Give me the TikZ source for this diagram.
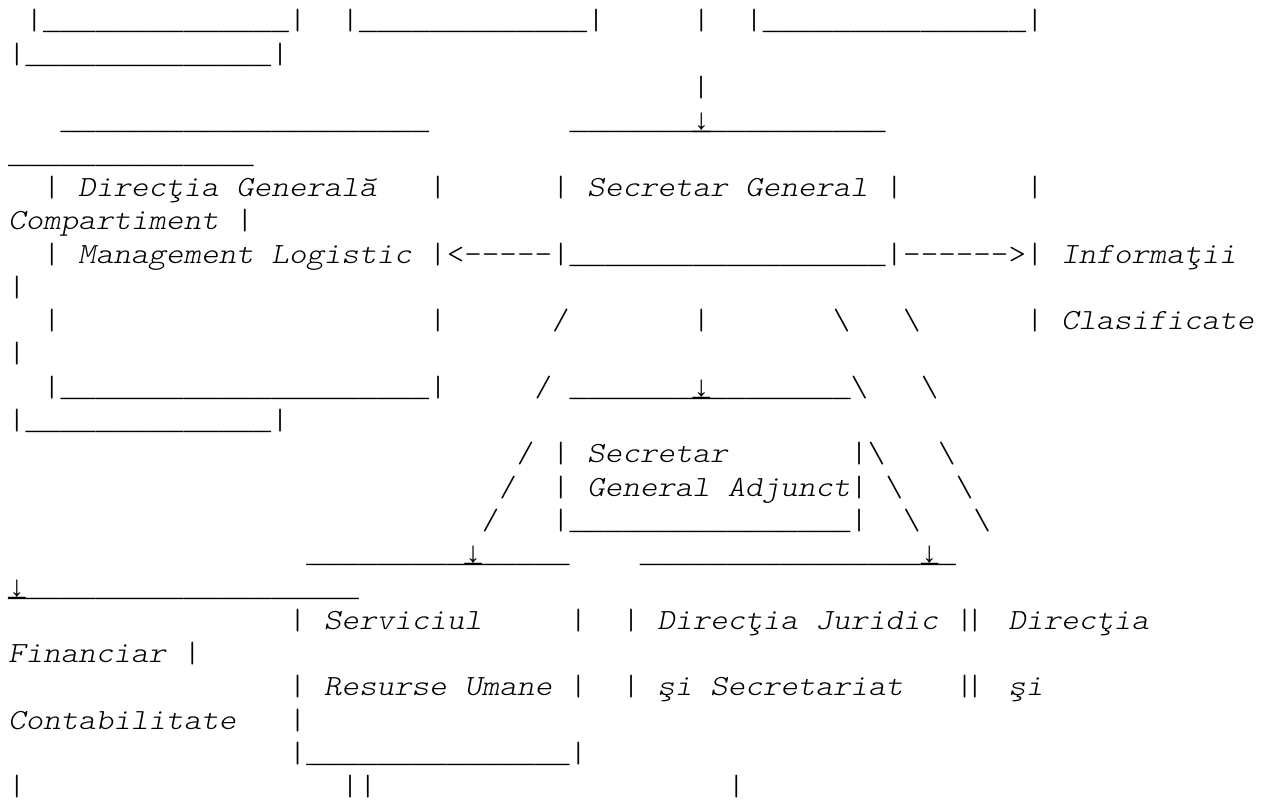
\documentclass[tikz,border=0pt]{standalone}
\usepackage{fontspec}
\setmonofont{lmmonolt10-regular.otf}[FakeStretch=1.142857]
\newfontfamily\wordfont{lmmonolt10-oblique.otf}[FakeStretch=1.142857]
\newfontfamily\linefont{Liberation Mono}
\usepackage{tikz}

% runs of underscores, blanks, an arrow sitting on the line, and the labels
\newcommand{\us}[1]{{\linefont\foreach\q in {1,...,#1}{\_}}}
\newcommand{\gap}[1]{\foreach\q in {1,...,#1}{\hphantom{x}}}
\newcommand{\dn}{{\linefont\rlap{↓}\rlap{\raisebox{0.6pt}{\_}}\_}}
\newcommand{\bs}{\textbackslash}
\newcommand{\lbl}[1]{{\wordfont #1}}

\begin{document}
\begin{tikzpicture}[
    x=13.1625pt, y=-24.975pt,
    ascii/.style={anchor=base west, inner sep=0pt, outer sep=0pt, font=\ttfamily\fontsize{21.94pt}{25pt}\selectfont}
]
\fill[white] (0,0) rectangle (71.966,24.054);
\useasboundingbox (0,0) rectangle (71.966,24.054);

\begin{scope}[shift={(0.456,-0.1)}]
% Boxes of the upper level
\node[ascii] (r1) at (1,1) {|\us{14}|\gap{2}|\us{13}|\gap{5}|\gap{2}|\us{15}|};
\node[ascii] (r2) at (0,2) {|\us{14}|};
\node[ascii] (r3) at (39,3) {|};
\node[ascii] (r4) at (3,4) {\us{21}\gap{8}\us{7}\dn\us{10}};
\node[ascii] (r5) at (0,5) {\us{14}};

% Logistics, Secretary General, classified information
\node[ascii] (r6) at (2,6) {|\gap{1}\lbl{Direcţia\gap{1}Generală}\gap{3}|\gap{6}|\gap{1}\lbl{Secretar\gap{1}General}\gap{1}|\gap{7}|};
\node[ascii] (r7) at (0,7) {\lbl{Compartiment}\gap{1}|};
\node[ascii] (r8) at (2,8) {|\gap{1}\lbl{Management\gap{1}Logistic}\gap{1}|<-----|\us{18}|------>|\gap{1}\lbl{Informaţii}};
\node[ascii] (r9) at (0,9) {|};
\node[ascii] (r10) at (2,10) {|\gap{21}|\gap{6}/\gap{7}|\gap{7}\bs\gap{3}\bs\gap{6}|\gap{1}\lbl{Clasificate}};
\node[ascii] (r11) at (0,11) {|};
\node[ascii] (r12) at (2,12) {|\us{21}|\gap{5}/\gap{1}\us{7}\dn\us{8}\bs\gap{3}\bs};
\node[ascii] (r13) at (0,13) {|\us{14}|};

% Deputy Secretary General
\node[ascii] (r14) at (29,14) {/\gap{1}|\gap{1}\lbl{Secretar}\gap{7}|\bs\gap{3}\bs};
\node[ascii] (r15) at (28,15) {/\gap{2}|\gap{1}\lbl{General\gap{1}Adjunct}|\gap{1}\bs\gap{3}\bs};
\node[ascii] (r16) at (27,16) {/\gap{3}|\us{16}|\gap{2}\bs\gap{3}\bs};
\node[ascii] (r17) at (17,17) {\us{9}\dn\us{5}\gap{4}\us{16}\dn\us{1}};
\node[ascii] (r18) at (0,18) {\dn\us{19}};

% Lower level
\node[ascii] (r19) at (16,19) {|\gap{1}\lbl{Serviciul}\gap{5}|\gap{2}|\gap{1}\lbl{Direcţia\gap{1}Juridic}\gap{1}|\kern-0.25em|\kern0.85em\lbl{Direcţia}};
\node[ascii] (r20) at (0,20) {\lbl{Financiar}\gap{1}|};
\node[ascii] (r21) at (16,21) {|\gap{1}\lbl{Resurse\gap{1}Umane}\gap{1}|\gap{2}|\gap{1}\lbl{şi\gap{1}Secretariat}\gap{3}|\kern-0.25em|\kern0.85em\lbl{şi}};
\node[ascii] (r22) at (0,22) {\lbl{Contabilitate}\gap{3}|};
\node[ascii] (r23) at (16,23) {|\us{15}|};
\node[ascii] (r24) at (0,24) {|\gap{18}||\gap{20}|};
\end{scope}

\end{tikzpicture}
\end{document}
